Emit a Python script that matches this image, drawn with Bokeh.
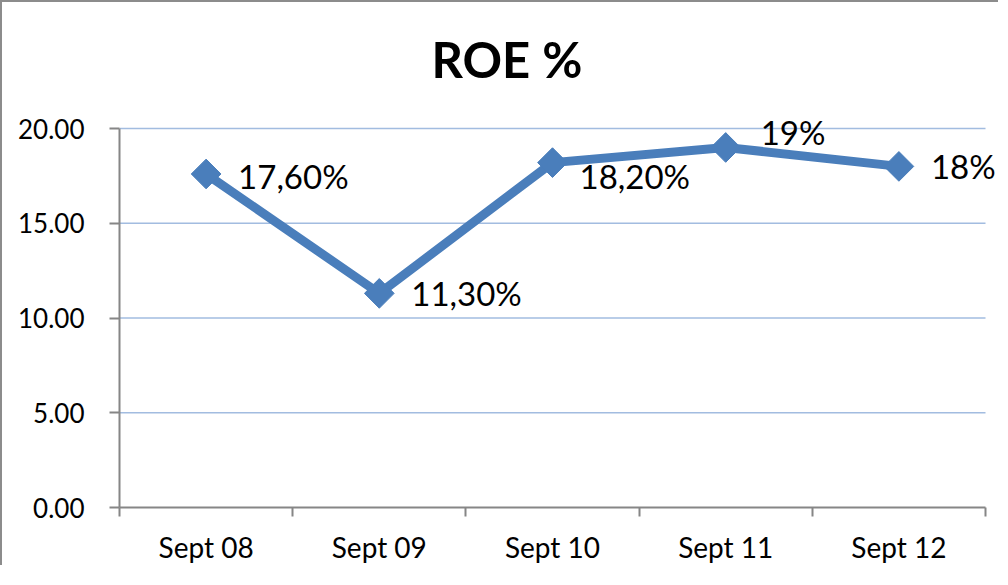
from bokeh.plotting import figure
from bokeh.models import ColumnDataSource, FixedTicker, Range1d, Title, NumeralTickFormatter, Label
from bokeh.embed import file_html
from bokeh.resources import INLINE

categories = ["Sept 08", "Sept 09", "Sept 10", "Sept 11", "Sept 12"]
roe_values = [17.6, 11.3, 18.2, 19.0, 18.0]
roe_labels = ["17,60%", "11,30%", "18,20%", "19%", "18%"]
y_ticks = [0, 5, 10, 15, 20]

# label placement (screen pixels), kept separate from the data
label_dx = [32, 32, 27, 35, 32]
label_dy = [-2, 0, -13, 15, 0]

FONT = "Lato"
BLUE = "#4A7EBB"
GRAY = "#868686"
GRID = "#A2BCE0"

# layout (figure pixels): plot area of the category axis / value axis
W, H = 998, 565
AX_LEFT, AX_RIGHT = 117, 983      # x extent of the axes
AX_TOP, AX_BOTTOM = 126, 505      # y of top value and of zero
FRAME_TOP = 106                   # frame reaches higher so labels are not clipped

n = len(categories)
xs = list(range(n))
x_lo, x_hi = -0.5, n - 0.5
y_lo, y_hi = y_ticks[0], y_ticks[-1]
x_end = x_lo + (x_hi - x_lo) * (W - AX_LEFT) / (AX_RIGHT - AX_LEFT)
y_end = y_hi + (y_hi - y_lo) * (AX_TOP - FRAME_TOP) / (AX_BOTTOM - AX_TOP)

p = figure(width=W, height=H, output_backend="svg", toolbar_location=None,
           x_range=Range1d(x_lo, x_end), y_range=Range1d(y_lo, y_end),
           min_border_left=AX_LEFT, min_border_right=0, min_border_top=FRAME_TOP,
           min_border_bottom=H - AX_BOTTOM)
p.styles = {"border-left": "2px solid #8c8c8c", "border-top": "2px solid #8c8c8c"}

title = Title(text="ROE %", align="left", offset=312, text_font=FONT, text_font_size="49px",
              text_font_style="bold", text_color="black", standoff=42)
p.add_layout(title, "above")

p.outline_line_color = None
p.background_fill_color = "white"
p.border_fill_color = "white"

# grid lines drawn only across the category span
p.xgrid.visible = False
p.ygrid.visible = False
grid_y = y_ticks[1:]
p.segment(x0=[x_lo] * len(grid_y), x1=[x_hi] * len(grid_y), y0=grid_y, y1=grid_y,
          line_color=GRID, line_width=1.5)

# y axis
p.yaxis.bounds = (y_lo, y_hi)
p.yaxis.ticker = FixedTicker(ticks=y_ticks)
p.yaxis.formatter = NumeralTickFormatter(format="0.00")
p.yaxis.axis_line_color = GRAY
p.yaxis.axis_line_width = 2
p.yaxis.major_tick_line_color = GRAY
p.yaxis.major_tick_line_width = 2
p.yaxis.major_tick_out = 10
p.yaxis.major_tick_in = 0
p.yaxis.minor_tick_line_color = None
p.yaxis.major_label_text_font = FONT
p.yaxis.major_label_text_font_size = "26px"
p.yaxis.major_label_text_color = "black"
p.yaxis.major_label_standoff = 25

# x axis: labels at category centres, tick marks at category boundaries
boundaries = [i - 0.5 for i in range(n + 1)]
p.xaxis.bounds = (x_lo, x_hi)
p.xaxis.ticker = FixedTicker(ticks=xs, minor_ticks=boundaries)
p.xaxis.major_label_overrides = {i: c for i, c in zip(xs, categories)}
p.xaxis.axis_line_color = GRAY
p.xaxis.axis_line_width = 2
p.xaxis.major_tick_line_color = None
p.xaxis.major_tick_out = 0
p.xaxis.major_tick_in = 0
p.xaxis.minor_tick_line_color = GRAY
p.xaxis.minor_tick_line_width = 2
p.xaxis.minor_tick_out = 9
p.xaxis.minor_tick_in = 0
p.xaxis.major_label_text_font = FONT
p.xaxis.major_label_text_font_size = "28px"
p.xaxis.major_label_text_color = "black"
p.xaxis.major_label_standoff = 13

src = ColumnDataSource(dict(x=xs, y=roe_values))

p.line("x", "y", source=src, line_color=BLUE, line_width=9, line_join="round")
p.scatter("x", "y", source=src, marker="square", angle=0.785398, size=21,
          fill_color=BLUE, line_color=BLUE)

for x, y, txt, dx, dy in zip(xs, roe_values, roe_labels, label_dx, label_dy):
    p.add_layout(Label(x=x, y=y, text=txt, x_offset=dx, y_offset=dy,
                       text_font=FONT, text_font_size="33px", text_color="black",
                       text_align="left", text_baseline="middle"))

open("out.html", "w").write(file_html(p, INLINE))
